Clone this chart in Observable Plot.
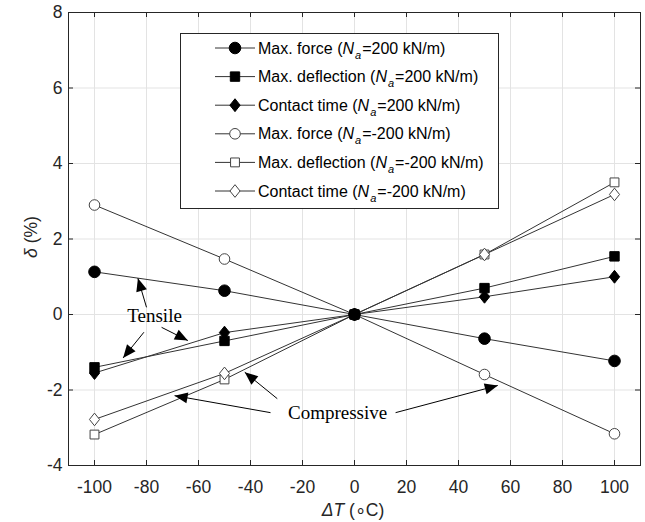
<!DOCTYPE html>
<html><head><meta charset="utf-8">
<script src="https://cdn.jsdelivr.net/npm/d3@7"></script>
<script src="https://cdn.jsdelivr.net/npm/@observablehq/plot@0.6"></script>
<style>
html,body{margin:0;padding:0;background:#fff;}
#chart{width:645px;height:522px;}
</style></head><body><div id="chart"></div>
<script>
// ---- data ----
const deltaT = [-100, -50, 0, 50, 100];
const maxForcePos = [1.13, 0.63, 0, -0.64, -1.23];
const maxDeflPos = [-1.40, -0.70, 0, 0.70, 1.54];
const contactPos = [-1.55, -0.48, 0, 0.47, 1.00];
const maxForceNeg = [2.90, 1.47, 0, -1.59, -3.16];
const maxDeflNeg = [-3.18, -1.72, 0, 1.59, 3.50];
const contactNeg = [-2.78, -1.56, 0, 1.59, 3.18];
const seriesLabels = ["Max. force", "Max. deflection", "Contact time", "Max. force", "Max. deflection", "Contact time"];
const seriesNa = ["=200 kN/m)", "=200 kN/m)", "=200 kN/m)", "=-200 kN/m)", "=-200 kN/m)", "=-200 kN/m)"];
const xTicks = [-100, -80, -60, -40, -20, 0, 20, 40, 60, 80, 100];
const yTicks = [-4, -2, 0, 2, 4, 6, 8];
const annotationLabels = [
  {text: "Tensile", x: -76.9, y: -0.05},
  {text: "Compressive", x: -6.5, y: -2.6}
];
const annotationArrows = [
  {x1: -80.0, y1: 0.19, x2: -83.3, y2: 0.96},
  {x1: -81.0, y1: -0.47, x2: -89.0, y2: -1.15},
  {x1: -74.2, y1: -0.34, x2: -64.1, y2: -0.69},
  {x1: -32.3, y1: -2.60, x2: -69.2, y2: -2.15},
  {x1: -29.7, y1: -2.23, x2: -42.2, y2: -1.53},
  {x1: 15.8, y1: -2.60, x2: 55.1, y2: -1.88}
];

// ---- layout ----
const W = 645, H = 522, mL = 68, mR = 5, mT = 12, mB = 57;
const sx = d3.scaleLinear([-110, 110], [mL, W - mR]);
const sy = d3.scaleLinear([-4, 8], [H - mB, mT]);
const tickLen = 5;

const diamond = {draw(ctx, size) {
  const r = Math.sqrt(size / Math.PI); const h = r * 1.15, w = r * 0.92;
  ctx.moveTo(0, -h); ctx.lineTo(w, 0); ctx.lineTo(0, h); ctx.lineTo(-w, 0); ctx.closePath();
}};
const headSym = {draw(ctx) {
  ctx.moveTo(0, 0); ctx.lineTo(5.5, 13); ctx.lineTo(-5.5, 13); ctx.closePath();
}};

const seriesValues = [maxForcePos, maxDeflPos, contactPos, maxForceNeg, maxDeflNeg, contactNeg];
const styles = [
  {symbol: "circle", d3sym: d3.symbolCircle, r: 5.8, fill: "#000", stroke: "#000"},
  {symbol: "square", d3sym: d3.symbolSquare, r: 5.3, fill: "#000", stroke: "#000"},
  {symbol: diamond, d3sym: diamond, r: 5.6, fill: "#000", stroke: "#000"},
  {symbol: "circle", d3sym: d3.symbolCircle, r: 5.3, fill: "#fff", stroke: "#444"},
  {symbol: "square", d3sym: d3.symbolSquare, r: 5.0, fill: "#fff", stroke: "#444"},
  {symbol: diamond, d3sym: diamond, r: 5.5, fill: "#fff", stroke: "#444"}
];
const rows = seriesValues.map((vals, s) => deltaT.map((t, i) => ({s, t, v: vals[i]})));
const heads = annotationArrows.map(a => {
  const dx = sx(a.x2) - sx(a.x1), dy = sy(a.y2) - sy(a.y1);
  return {...a, rot: Math.atan2(dx, -dy) * 180 / Math.PI};
});
const fmt = d => String(d);

const drawOrder = [3, 4, 5, 0, 1, 2];
const plot = Plot.plot({
  width: W, height: H,
  marginLeft: mL, marginRight: mR, marginTop: mT, marginBottom: mB,
  x: {domain: [-110, 110], label: null},
  y: {domain: [-4, 8], label: null},
  style: {fontFamily: "'Liberation Sans', Arial, sans-serif", fontSize: "17.5px", color: "#262626", background: "#fff"},
  marks: [
    Plot.gridX(xTicks, {stroke: "#e3e3e3", strokeOpacity: 1}),
    Plot.gridY(yTicks, {stroke: "#e3e3e3", strokeOpacity: 1}),
    Plot.axisX(xTicks, {anchor: "bottom", tickSize: 0, tickPadding: 15, stroke: "none", tickFormat: fmt, label: null}),
    Plot.axisY(yTicks, {anchor: "left", tickSize: 0, tickPadding: 6, stroke: "none", tickFormat: fmt, label: null}),
    Plot.ruleX(xTicks, {y1: -4, y2: sy.invert(H - mB - tickLen), stroke: "#262626"}),
    Plot.ruleX(xTicks, {y1: 8, y2: sy.invert(mT + tickLen), stroke: "#262626"}),
    Plot.ruleY(yTicks, {x1: -110, x2: sx.invert(mL + tickLen), stroke: "#262626"}),
    Plot.ruleY(yTicks, {x1: 110, x2: sx.invert(W - mR - tickLen), stroke: "#262626"}),
    Plot.frame({stroke: "#262626"}),
    ...rows.map(r => Plot.line(r, {x: "t", y: "v", stroke: "#333", strokeWidth: 1})),
    ...drawOrder.map(s => Plot.dot(rows[s], {x: "t", y: "v", symbol: styles[s].symbol, r: styles[s].r, fill: styles[s].fill, stroke: styles[s].stroke, strokeWidth: 1})),
    Plot.link(annotationArrows, {x1: "x1", y1: "y1", x2: "x2", y2: "y2", stroke: "#000", strokeWidth: 1}),
    Plot.dot(heads, {x: "x2", y: "y2", symbol: headSym, r: 5, rotate: "rot", fill: "#000", stroke: "none"}),
    Plot.text(annotationLabels, {x: "x", y: "y", text: "text", fontFamily: "'Liberation Serif', 'Times New Roman', serif", fontSize: 19, fill: "#000"})
  ]
});
document.getElementById("chart").appendChild(plot);

// ---- legend & axis titles ----
const svg = d3.select(plot);
const lg = svg.append("g").attr("font-family", "'Liberation Sans', Arial, sans-serif").attr("font-size", 16)
  .attr("fill", "#000").attr("text-anchor", "start");
lg.append("rect").attr("x", 180.5).attr("y", 33.5).attr("width", 318).attr("height", 175)
  .attr("fill", "#fff").attr("stroke", "#262626");
seriesLabels.forEach((lab, i) => {
  const y = 48 + i * 28.6;
  const st = styles[i];
  lg.append("line").attr("x1", 215).attr("x2", 255).attr("y1", y).attr("y2", y).attr("stroke", "#333");
  lg.append("path").attr("d", d3.symbol(st.d3sym, st.r * st.r * Math.PI)())
    .attr("transform", `translate(235,${y})`).attr("fill", st.fill).attr("stroke", st.stroke);
  const t = lg.append("text").attr("x", 258).attr("y", y + 5.5).attr("text-anchor", "start");
  t.append("tspan").text(lab + " (");
  t.append("tspan").attr("font-style", "italic").text("N");
  t.append("tspan").attr("font-style", "italic").attr("font-size", 11).attr("dy", 5).attr("dx", 1).text("a");
  t.append("tspan").attr("dy", -5).attr("dx", 1).text(seriesNa[i]);
});
const yl = svg.append("text").attr("transform", "translate(37,237) rotate(-90)").attr("text-anchor", "middle")
  .attr("font-family", "'Liberation Sans', Arial, sans-serif").attr("font-size", 17.5).attr("fill", "#262626");
yl.append("tspan").attr("font-style", "italic").text("δ");
yl.append("tspan").text(" (%)");
const xl = svg.append("text").attr("x", 353).attr("y", 516).attr("text-anchor", "middle")
  .attr("font-family", "'Liberation Sans', Arial, sans-serif").attr("font-size", 17.5).attr("fill", "#262626");
xl.append("tspan").attr("font-style", "italic").text("ΔT");
xl.append("tspan").text(" (∘C)");
</script></body></html>
